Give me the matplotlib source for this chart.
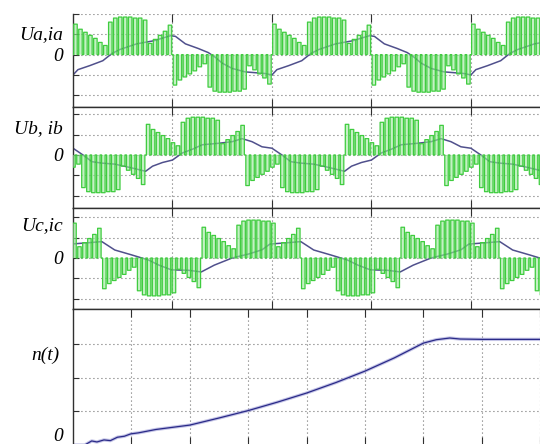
import numpy as np
import matplotlib.pyplot as plt
from matplotlib import transforms

# ---- values -------------------------------------------------------------
# one positive half-cycle of the inverter phase voltage (20 switching pulses)
pulse_top = [1.5, 1.25, 1.1, 0.95, 0.8, 0.6, 0.45, 1.6, 1.8, 1.85,
             1.85, 1.85, 1.8, 1.8, 1.7, 0.55, 0.75, 0.95, 1.15, 1.45]
pulse_dt = 0.05          # switching period (grid divisions)
half_cycle = 1.0         # half period of the fundamental

# start of the positive half-cycle for each phase
ua_start = 0.0
ub_start = 0.73
uc_start = 1.29

# one period of each phase current (time relative to the phase start)
ia_t = [0.0, 0.05, 0.17, 0.30, 0.39, 0.47, 0.64, 0.81, 0.98,
        1.03, 1.13, 1.26, 1.36, 1.43, 1.50, 1.60, 1.73, 1.93]
ia_v = [-1.0, -0.74, -0.54, -0.3, 0.05, 0.25, 0.53, 0.68, 0.93,
        0.9, 0.53, 0.3, 0.1, -0.13, -0.42, -0.68, -0.85, -0.93]
ib_t = [0.0, 0.07, 0.17, 0.27, 0.37, 0.47, 0.57, 0.73, 0.87,
        0.97, 1.07, 1.17, 1.27, 1.37, 1.46, 1.56, 1.69, 1.83]
ib_v = [-0.8, -0.55, -0.37, -0.25, 0.1, 0.28, 0.5, 0.57, 0.65,
        0.8, 0.65, 0.4, 0.33, 0.0, -0.33, -0.4, -0.45, -0.6]
ic_t = [0.0, 0.13, 0.31, 0.48, 0.61, 0.69, 0.88, 1.0,
        1.13, 1.3, 1.47, 1.57, 1.7, 1.87]
ic_v = [-0.68, -0.35, 0.0, 0.2, 0.4, 0.68, 0.75, 0.8,
        0.39, 0.15, -0.1, -0.34, -0.58, -0.6]

# speed n(t)
n_t = [0.0, 0.2, 0.32, 0.41, 0.53, 0.64, 0.76, 0.88, 0.99, 1.12, 1.42,
       2.0, 2.5, 3.0, 3.5, 4.0, 4.5, 5.0, 5.5, 6.0, 6.22, 6.45, 6.63, 7.0, 8.1]
n_v = [0.0, 0.0, 0.12, 0.09, 0.15, 0.13, 0.23, 0.26, 0.33, 0.36, 0.46,
       0.59, 0.8, 1.02, 1.27, 1.54, 1.85, 2.19, 2.58, 3.02, 3.12, 3.17, 3.14, 3.13, 3.13]

labels = ['Ua,ia', 'Ub, ib', 'Uc,ic']
label_y = [1.0, 1.3, 1.6]
ylims = [(-2.58, 2.0), (-2.6, 2.35), (-2.49, 2.44)]


def phase_voltage(start):
    t, v = [], []
    for h in range(-3, 7):
        sign = 1 if h % 2 == 0 else -1
        t0 = start + h * half_cycle
        for k in range(len(pulse_top)):
            tk = t0 + k * pulse_dt
            t += [tk, tk + 0.15 * pulse_dt, tk + 0.85 * pulse_dt]
            v += [0.0, sign * pulse_top[k], 0.0]
    return np.array(t), np.array(v)


def periodic(t, v, start):
    tt = np.concatenate([np.array(t) + start + 2 * c for c in range(-2, 4)])
    vv = np.tile(v, 6)
    return tt, vv


label_font = dict(family='Liberation Serif', style='italic', size=14)
grid_style = dict(color='#505050', linestyle=(0, (0.8, 2.8)), linewidth=0.8)

fig = plt.figure(figsize=(5.4, 4.44), dpi=100)
W, H = 540.0, 444.0
left = 73 / W
width = 468 / W
boxes = [(14, 107), (107, 208), (208, 309)]

phases = [(ua_start, ia_t, ia_v), (ub_start, ib_t, ib_v), (uc_start, ic_t, ic_v)]
for i, (start, ct, cv) in enumerate(phases):
    top, bot = boxes[i]
    ax = fig.add_axes([left, 1 - bot / H, width, (bot - top) / H])
    tv, vv = phase_voltage(start)
    ti, vi = periodic(ct, cv, start)
    ax.plot(ti, vi, color='#50508c', lw=1.1, zorder=2)
    ax.fill_between(tv, vv, 0, step='post', color='#9ee89e', alpha=0.6,
                    lw=0, zorder=3)
    ax.plot(tv, vv, drawstyle='steps-post', color='#3fcc3f', lw=0.9, zorder=4)
    ax.set_xlim(0, 4.705)
    ax.set_ylim(*ylims[i])
    ax.set_xticks([1, 2, 3, 4])
    ax.set_yticks([-2, -1, 0, 1, 2])
    ax.set_yticklabels(['', '', '0', '', ''], fontdict=label_font)
    ax.tick_params(direction='in', length=4, top=True, right=False,
                   labelbottom=False, color='#303030', pad=7)
    ax.tick_params(axis='x', length=6)
    ax.grid(True, **grid_style)
    for s in ax.spines.values():
        s.set_color('#303030')
        s.set_linewidth(1.0)
    if i == 0:
        ax.spines['top'].set_visible(False)
    tr = transforms.blended_transform_factory(ax.transAxes, ax.transData)
    ax.text(-0.022, label_y[i], labels[i], transform=tr, ha='right', va='center',
            **label_font)

# speed panel
ax = fig.add_axes([left, -1 / H, 469 / W, 136 / H])
ax.plot(n_t, n_v, color='#9d9dd6', lw=2.4, alpha=0.6, zorder=2)
ax.plot(n_t, n_v, color='#2a2a88', lw=0.9, zorder=3)
ax.set_xlim(0, 8.03)
ax.set_ylim(0, 4.03)
ax.set_xticks([1, 2, 3, 4, 5, 6, 7, 8])
ax.set_yticks([0, 1, 2, 3])
ax.set_yticklabels(['', '', '', ''])
ax.tick_params(direction='in', length=4, top=True, right=False,
               labelbottom=False, color='#303030', pad=7)
ax.tick_params(axis='x', length=6)
ax.grid(True, **grid_style)
for s in ax.spines.values():
    s.set_color('#303030')
    s.set_linewidth(1.0)
tr = transforms.blended_transform_factory(ax.transAxes, ax.transData)
ax.text(-0.028, 2.65, 'n(t)', transform=tr, ha='right', va='center', **label_font)
ax.text(-0.022, 0.0, '0', transform=tr, ha='right', va='bottom', **label_font)

fig.savefig('out.png', dpi=100)
